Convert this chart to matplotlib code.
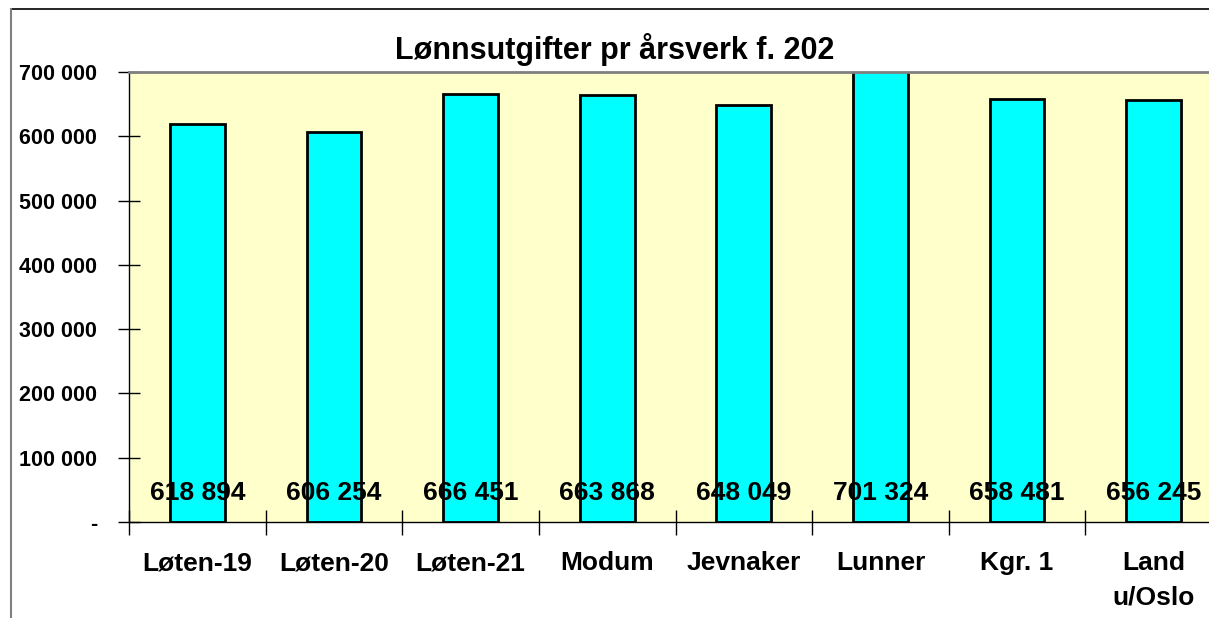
import matplotlib.pyplot as plt
from matplotlib.lines import Line2D
from matplotlib.ticker import FuncFormatter

plt.rcParams['font.family'] = ['Liberation Sans Narrow', 'Liberation Sans', 'DejaVu Sans']
plt.rcParams['font.weight'] = 'bold'

categories = ['Løten-19', 'Løten-20', 'Løten-21', 'Modum', 'Jevnaker', 'Lunner', 'Kgr. 1', 'Land\nu/Oslo']
values = [618894, 606254, 666451, 663868, 648049, 701324, 658481, 656245]
yticks = [0, 100000, 200000, 300000, 400000, 500000, 600000, 700000]
title = 'Lønnsutgifter pr årsverk f. 202'


def fmt(v, pos=None):
    if v == 0:
        return '-'
    return f'{int(v):,}'.replace(',', ' ')


fig = plt.figure(figsize=(12.09, 6.18), dpi=100)
ax = fig.add_axes([129 / 1209, 96 / 618, 1093 / 1209, 450 / 618])
ax.set_facecolor('#FFFFCC')

x = range(len(categories))
ax.bar(x, values, width=0.4, color='#00FFFF', edgecolor='black', linewidth=2)

for i, v in enumerate(values):
    ax.text(i, 0.064, fmt(v), transform=ax.get_xaxis_transform(),
            ha='center', va='center', fontsize=19, fontweight='bold')

ax.set_xlim(-0.5, len(categories) - 0.5)
ax.set_ylim(0, 700000)
ax.set_yticks(yticks)
ax.yaxis.set_major_formatter(FuncFormatter(fmt))
ax.set_xticks([i + 0.5 for i in range(-1, len(categories))], minor=False)
ax.set_xticklabels([])
ax.set_xticks(list(x), minor=True)
labels = ax.set_xticklabels(categories, minor=True, fontsize=19, fontweight='bold')
for lab in labels:
    lab.set_linespacing(1.55)
ax.tick_params(axis='x', which='minor', length=0, pad=21)
ax.tick_params(axis='x', which='major', direction='inout', length=18, width=1)
ax.tick_params(axis='y', direction='inout', length=16, width=1, labelsize=15.5, pad=15)

ax.spines['right'].set_visible(False)
ax.spines['top'].set_color('#808080')
ax.spines['top'].set_linewidth(2)
ax.spines['left'].set_linewidth(1)
ax.spines['bottom'].set_linewidth(1)

fig.text(615 / 1209, 1 - 50 / 618, title, ha='center', va='center',
         fontsize=22, fontweight='bold')

# outer chart frame
fig.add_artist(Line2D([11 / 1209, 1], [1 - 9 / 618, 1 - 9 / 618], color='black', lw=1.2))
fig.add_artist(Line2D([11 / 1209, 11 / 1209], [0, 1 - 9 / 618], color='#808080', lw=1.5))

fig.savefig('out.png', dpi=100)
